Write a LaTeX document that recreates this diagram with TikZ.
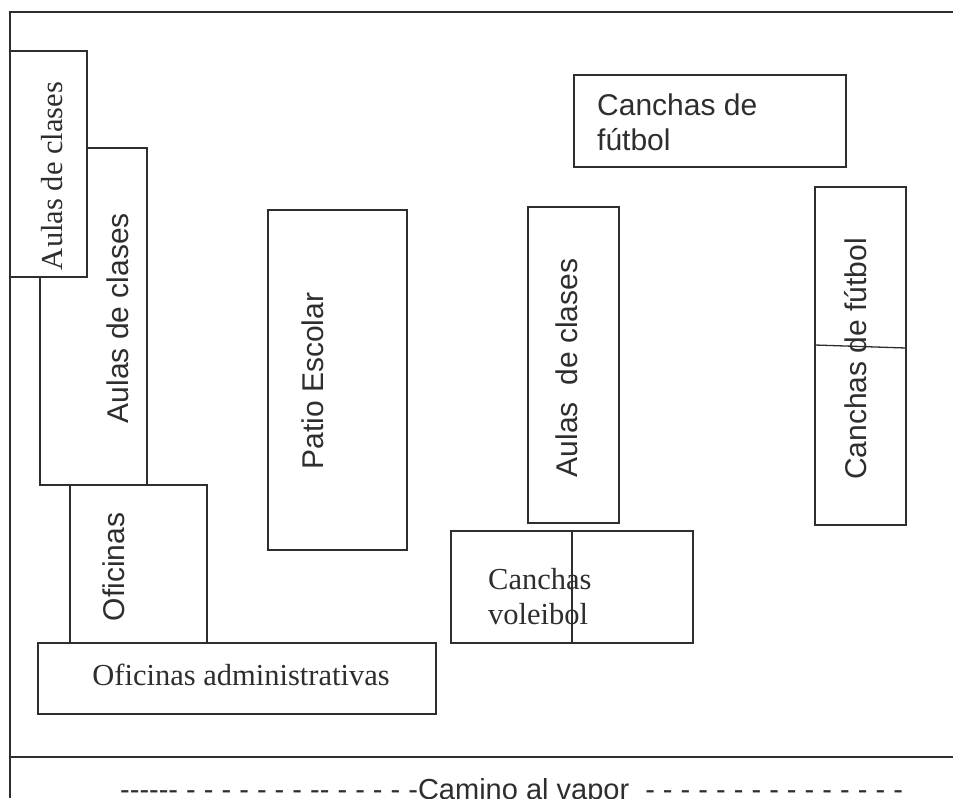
\documentclass[tikz,border=0pt]{standalone}
\usepackage{fontspec}
\setmainfont{Liberation Serif}
\setsansfont[Ligatures=NoCommon]{Liberation Sans}
\definecolor{ink}{HTML}{2E2E2E}
\newcommand{\hy}{\mbox{-}}
\tikzset{
  x=1pt,y=-1pt,
  room/.style={draw=ink,line width=1.3pt,fill=white,inner sep=0pt,outer sep=0pt,anchor=north west},
  rule/.style={draw=ink,line width=1.3pt},
  sanslabel/.style={inner sep=0pt,text=ink,font=\fontsize{30}{35}\selectfont\sffamily},
  seriflabel/.style={inner sep=0pt,text=ink,font=\fontsize{30.5}{35}\selectfont\rmfamily},
  roadlabel/.style={inner sep=0pt,text=ink,font=\fontsize{29}{35}\selectfont\sffamily},
}
\begin{document}
\begin{tikzpicture}
\useasboundingbox (0,0) rectangle (953,798);
\clip (0,0) rectangle (953,798);
\fill[white] (0,0) rectangle (953,798);
% frame
\coordinate (topL) at (10,12);
\coordinate (topR) at (953,12);
\coordinate (botL) at (10,798);
\coordinate (roadL) at (10,757);
\coordinate (roadR) at (953,757);
\draw[rule] (topR) -- (topL) -- (botL);
\draw[rule] (roadL) -- (roadR);
% rooms
\node[room,minimum width=107pt,minimum height=337pt] (aulasB) at (40,148) {};
\node[room,minimum width=77pt,minimum height=226pt] (aulasA) at (10,51) {};
\node[room,minimum width=137pt,minimum height=158pt] (ofi) at (70,485) {};
\node[room,minimum width=398pt,minimum height=71pt] (admin) at (38,643) {};
\node[room,minimum width=139pt,minimum height=340pt] (patio) at (268,210) {};
\node[room,minimum width=91pt,minimum height=316pt] (aulasC) at (528,207) {};
\node[room,minimum width=242pt,minimum height=112pt] (volei) at (451,531) {};
\node[room,minimum width=272pt,minimum height=92pt] (futA) at (574,75) {};
\node[room,minimum width=91pt,minimum height=338pt] (futB) at (815,187) {};
% dividers
\draw[rule] (volei.north) -- (volei.south);
\draw[rule] ([yshift=11pt]futB.west) -- ([yshift=8pt]futB.east);
% labels
\node[seriflabel,rotate=90] (tA) at (52,176) {Aulas de clases};
\node[sanslabel,rotate=90] (tB) at (118,318) {Aulas de clases};
\node[sanslabel,rotate=90] (tO) at (114,567) {Oficinas};
\node[seriflabel] (tAdm) at (241,675) {Oficinas administrativas};
\node[sanslabel,rotate=90] (tP) at (313,381) {Patio Escolar};
\node[sanslabel,rotate=90] (tC) at (567,368) {Aulas\ \ de clases};
\node[sanslabel,rotate=90] (tF) at (856,359) {Canchas de fútbol};
\node[sanslabel,align=left,anchor=north west] (tFA) at (597,94) {Canchas de\\fútbol};
\node[seriflabel,align=left,anchor=north west] (tV) at (488,568) {Canchas\\voleibol};
\node[roadlabel,anchor=base west] (tRoad) at (120,799) {\hy\hy\hy\hy\hy\hy{} \hy{} \hy{} \hy{} \hy{} \hy{} \hy{} \hy{} \hy\hy{} \hy{} \hy{} \hy{} \hy{} \hy Camino al vapor\ \ \hy{} \hy{} \hy{} \hy{} \hy{} \hy{} \hy{} \hy{} \hy{} \hy{} \hy{} \hy{} \hy{} \hy{} \hy};
\end{tikzpicture}
\end{document}
